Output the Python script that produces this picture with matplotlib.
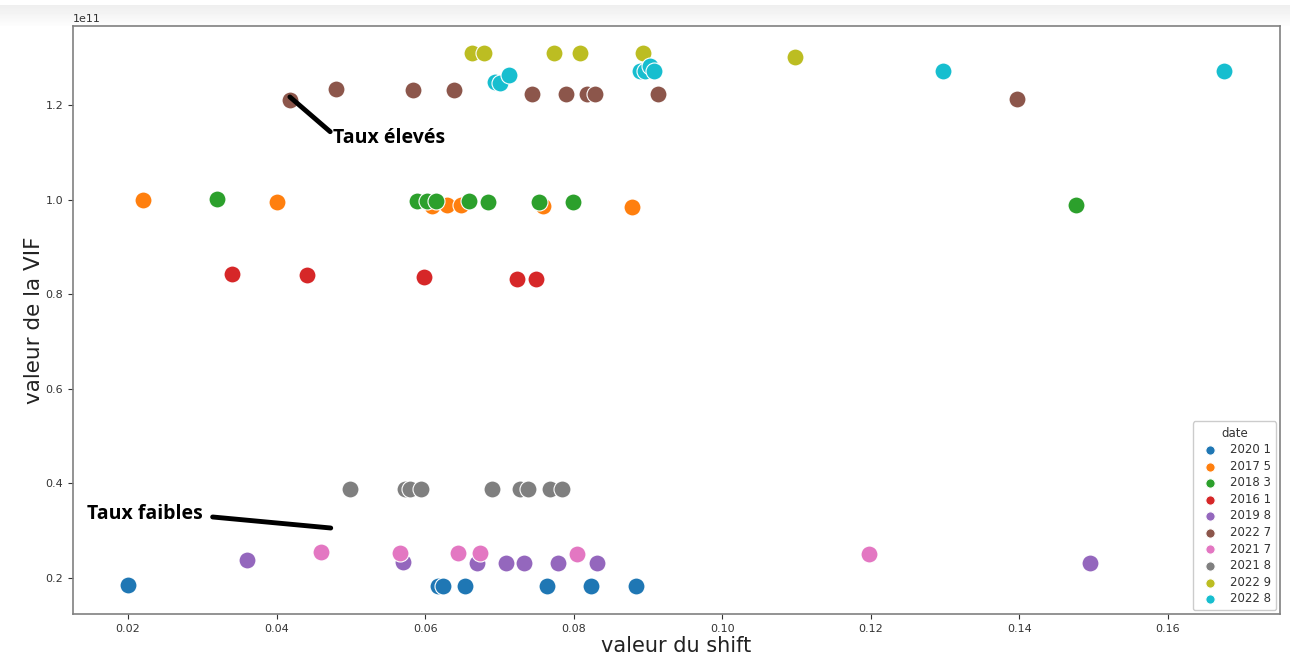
import numpy as np
import matplotlib.pyplot as plt

# shift / VIF values (VIF in units of 1e11) for each date
dates = ['2020 1', '2017 5', '2018 3', '2016 1', '2019 8',
         '2022 7', '2021 7', '2021 8', '2022 9', '2022 8']
colors = ['#1f77b4', '#ff7f0e', '#2ca02c', '#d62728', '#9467bd',
          '#8c564b', '#e377c2', '#7f7f7f', '#bcbd22', '#17becf']

shift_2020_1 = [0.020, 0.0617, 0.0624, 0.0654, 0.0764, 0.0823, 0.0884]
vif_2020_1 = [0.185, 0.183, 0.183, 0.183, 0.183, 0.183, 0.183]

shift_2017_5 = [0.022, 0.0401, 0.0609, 0.0629, 0.0648, 0.0759, 0.0878]
vif_2017_5 = [1.000, 0.995, 0.9865, 0.9886, 0.9886, 0.9865, 0.9844]

shift_2018_3 = [0.032, 0.0589, 0.0602, 0.0615, 0.0659, 0.0685, 0.0753, 0.0799, 0.1476]
vif_2018_3 = [1.001, 0.997, 0.997, 0.997, 0.997, 0.995, 0.995, 0.995, 0.9886]

shift_2016_1 = [0.034, 0.0441, 0.0598, 0.0724, 0.0749]
vif_2016_1 = [0.8427, 0.8406, 0.8364, 0.832, 0.832]

shift_2019_8 = [0.036, 0.057, 0.067, 0.0709, 0.0733, 0.0779, 0.0831, 0.1495]
vif_2019_8 = [0.238, 0.234, 0.232, 0.232, 0.232, 0.232, 0.232, 0.2317]

shift_2022_7 = [0.0418, 0.048, 0.0584, 0.0639, 0.0744, 0.079, 0.0818, 0.0829, 0.0913, 0.1397]
vif_2022_7 = [1.2106, 1.234, 1.232, 1.232, 1.2233, 1.2233, 1.2233, 1.2233, 1.2233, 1.2127]

shift_2021_7 = [0.046, 0.0566, 0.0644, 0.0674, 0.0804, 0.1197]
vif_2021_7 = [0.255, 0.253, 0.253, 0.253, 0.251, 0.2507]

shift_2021_8 = [0.0499, 0.0573, 0.058, 0.0594, 0.069, 0.0728, 0.0738, 0.0768, 0.0784]
vif_2021_8 = [0.389, 0.389, 0.388, 0.389, 0.388, 0.388, 0.388, 0.388, 0.389]

shift_2022_9 = [0.0663, 0.0679, 0.0773, 0.0808, 0.0893, 0.1098]
vif_2022_9 = [1.31, 1.31, 1.31, 1.31, 1.31, 1.3015]

shift_2022_8 = [0.0694, 0.0701, 0.0713, 0.0889, 0.0896, 0.0903, 0.0908, 0.1297, 0.1675]
vif_2022_8 = [1.2486, 1.2465, 1.2634, 1.2719, 1.2719, 1.2825, 1.2719, 1.2719, 1.2719]

shifts = [shift_2020_1, shift_2017_5, shift_2018_3, shift_2016_1, shift_2019_8,
          shift_2022_7, shift_2021_7, shift_2021_8, shift_2022_9, shift_2022_8]
vifs = [vif_2020_1, vif_2017_5, vif_2018_3, vif_2016_1, vif_2019_8,
        vif_2022_7, vif_2021_7, vif_2021_8, vif_2022_9, vif_2022_8]

fig = plt.figure(figsize=(12.9, 6.6), dpi=100)

# light grey band along the top edge
band = fig.add_axes([0, 1 - 26 / 660, 1, 26 / 660])
grad = np.concatenate([np.ones(5), np.linspace(0.935, 0.99, 21)])[:, None]
band.imshow(np.repeat(grad, 10, axis=1), cmap='gray', vmin=0, vmax=1,
            aspect='auto', extent=[0, 1, 0, 1])
band.axis('off')

ax = fig.add_axes([73 / 1290, 1 - 614 / 660, 1207 / 1290, 588 / 660])

for d, c, xs, ys in zip(dates, colors, shifts, vifs):
    ax.scatter(xs, np.array(ys) * 1e11, s=150, color=c, edgecolor='white',
               linewidth=0.8, label=d)

ax.set_xlim(0.0126, 0.1751)
ax.set_ylim(0.1239e11, 1.367e11)
ax.set_xticks([0.02, 0.04, 0.06, 0.08, 0.10, 0.12, 0.14, 0.16])
ax.set_yticks([0.2e11, 0.4e11, 0.6e11, 0.8e11, 1.0e11, 1.2e11])
ax.tick_params(labelsize=8, colors='#333333', length=3.5)
ax.yaxis.get_offset_text().set_fontsize(8)
ax.yaxis.get_offset_text().set_color('#333333')
for sp in ax.spines.values():
    sp.set_color('#808080')
    sp.set_linewidth(1.2)

ax.set_xlabel('valeur du shift', fontsize=15, color='#222222', labelpad=2)
ax.set_ylabel('valeur de la VIF', fontsize=15.5, color='#222222', labelpad=1)

leg = ax.legend(title='date', loc='lower right', fontsize=8.5, title_fontsize=8.5,
                markerscale=0.55, handletextpad=0.7, borderpad=0.45,
                labelspacing=0.3, framealpha=1, edgecolor='#cccccc',
                borderaxespad=0.3)
leg.get_title().set_color('#333333')
for t in leg.get_texts():
    t.set_color('#333333')

# hand-drawn style annotations
ax.annotate('Taux élevés', xy=(0.0418, 1.217e11), xytext=(0.0476, 1.13e11),
            fontsize=14, fontweight='bold', family='Open Sans',
            va='center', ha='left',
            arrowprops=dict(arrowstyle='-', lw=3.5, color='black',
                            shrinkA=0, shrinkB=0, relpos=(0, 0.7)))
ax.annotate('Taux faibles', xy=(0.0473, 0.3057e11), xytext=(0.0145, 0.3353e11),
            fontsize=14, fontweight='bold', family='Open Sans',
            va='center', ha='left')
ax.plot([0.0314, 0.0473], [0.329e11, 0.3057e11], color='black', lw=3.5,
        solid_capstyle='round')

fig.savefig('out.png', dpi=100)
